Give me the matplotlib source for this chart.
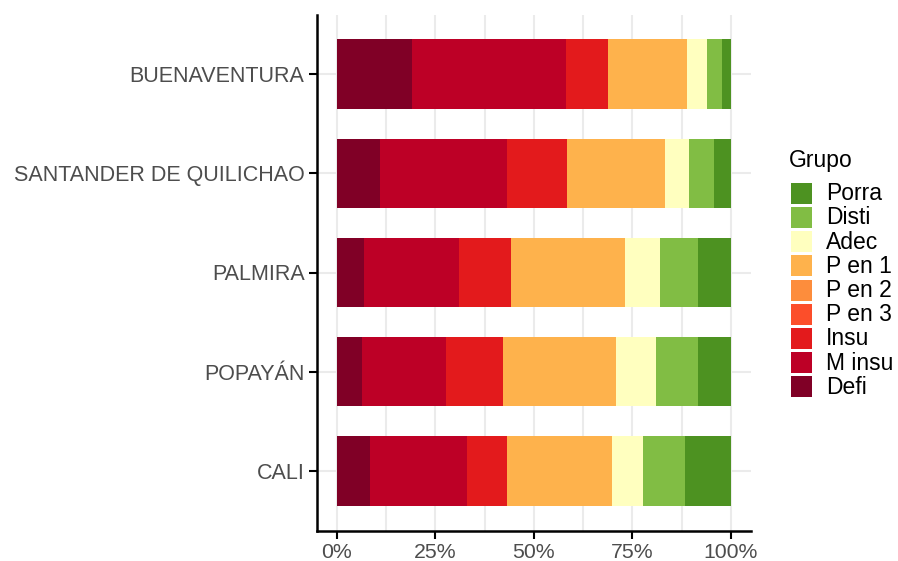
import matplotlib
matplotlib.use("Agg")
import matplotlib.pyplot as plt
from matplotlib.patches import Rectangle
import numpy as np

plt.rcParams['font.family'] = ['Liberation Sans', 'DejaVu Sans']

cities = ["CALI", "POPAYÁN", "PALMIRA", "SANTANDER DE QUILICHAO", "BUENAVENTURA"]
groups = ["Defi", "M insu", "Insu", "P en 3", "P en 2", "P en 1", "Adec", "Disti", "Porra"]
colors = ["#800026", "#BD0026", "#E31A1C", "#FC4E2A", "#FD8D3C", "#FEB24C", "#FFFFBF", "#81BD44", "#4D9221"]

# percent per city (order of cities list), per group
defi   = [8.4, 6.3, 6.8, 10.9, 19.2]
m_insu = [24.6, 21.5, 24.1, 32.4, 39.0]
insu   = [10.1, 14.4, 13.2, 15.2, 10.6]
p_en_3 = [0.0, 0.0, 0.0, 0.0, 0.0]
p_en_2 = [0.0, 0.0, 0.0, 0.0, 0.0]
p_en_1 = [26.6, 28.6, 28.9, 24.8, 20.0]
adec   = [8.1, 10.1, 9.1, 6.1, 5.1]
disti  = [10.4, 10.6, 9.6, 6.3, 3.8]
porra  = [11.8, 8.5, 8.3, 4.3, 2.3]

series = [defi, m_insu, insu, p_en_3, p_en_2, p_en_1, adec, disti, porra]
xticks = [0, 25, 50, 75, 100]
xticklabels = ["0%", "25%", "50%", "75%", "100%"]

fig = plt.figure(figsize=(8.98, 5.61), dpi=100)
ax = fig.add_axes([317/898, 1 - 530.5/561, (750.75-317)/898, (530.5-14.5)/561])

vals = np.array(series, dtype=float)
vals = vals / vals.sum(axis=0) * 100
y = np.arange(1, len(cities) + 1)
left = np.zeros(len(cities))
for v, c in zip(vals, colors):
    ax.barh(y, v, left=left, height=0.7, color=c, linewidth=0, zorder=3)
    left += v

ax.set_xlim(-5, 105)
ax.set_ylim(0.4, len(cities) + 0.6)
ax.set_yticks(y)
ax.set_yticklabels(cities)
ax.set_xticks(xticks)
ax.set_xticklabels(xticklabels)
ax.set_xticks([12.5, 37.5, 62.5, 87.5], minor=True)
ax.grid(True, which='major', color='#EBEBEB', linewidth=1.5, zorder=0)
ax.grid(True, which='minor', axis='x', color='#EBEBEB', linewidth=1.5, zorder=0)
ax.tick_params(axis='y', which='major', labelsize=15.5)
ax.tick_params(axis='x', which='major', labelsize=15.3)
ax.tick_params(axis='both', which='major', labelcolor='#4D4D4D',
               length=6, width=1.5, color='black', pad=3)
ax.tick_params(which='minor', length=0)
for s in ['top', 'right']:
    ax.spines[s].set_visible(False)
for s in ['left', 'bottom']:
    ax.spines[s].set_linewidth(1.8)
    ax.spines[s].set_color('black')

# legend (drawn manually, top to bottom reversed)
fig.text(789/898, 1 - 160/561, "Grupo", fontsize=16.5, color='black', va='center', ha='left')
y0 = 182.7
for i, (g, c) in enumerate(zip(groups[::-1], colors[::-1])):
    top = y0 + i * 24.2
    fig.patches.append(Rectangle((791/898, 1 - (top + 21)/561), 21/898, 21/561,
                                 transform=fig.transFigure, color=c, linewidth=0))
    fig.text(826/898, 1 - (top + 11)/561, g, fontsize=16.5, color='black', va='center', ha='left')

fig.savefig("out.png", dpi=100)
